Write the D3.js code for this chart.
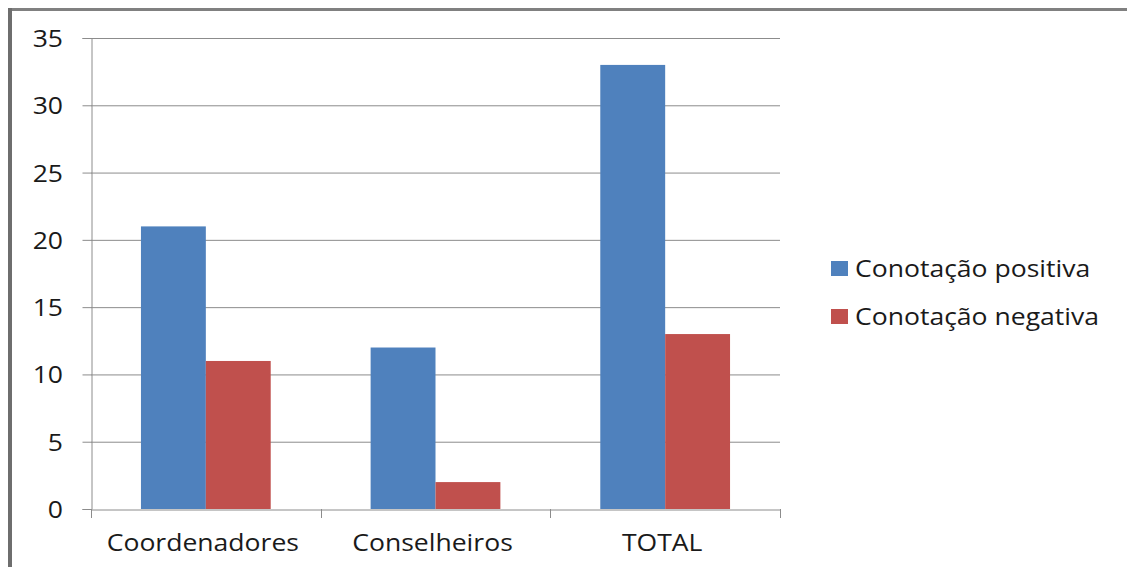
<!DOCTYPE html>
<html>
<head>
<meta charset="utf-8">
<script src="https://cdn.jsdelivr.net/npm/d3@7"></script>
<style>
  body { margin: 0; background: #fff; }
  text { font-family: "Open Sans", sans-serif; fill: #1a1a1a; }
</style>
</head>
<body>
<svg width="1127" height="567"></svg>
<script>
// data
const categories = ["Coordenadores", "Conselheiros", "TOTAL"];
const seriesNames = ["Conotação positiva", "Conotação negativa"];
const positiva = [21, 12, 33];
const negativa = [11, 2, 13];
const yTicks = [0, 5, 10, 15, 20, 25, 30, 35];
const colors = ["#4f81bd", "#c0504d"];

const fontSize = 23.5;
const stretch = 1.13; // the source picture is a bit wider than tall

const svg = d3.select("svg");

// outer frame (top and left edges only)
svg.append("rect").attr("x", 8).attr("y", 8).attr("width", 1119).attr("height", 3).attr("fill", "#808080");
svg.append("rect").attr("x", 8).attr("y", 8).attr("width", 4).attr("height", 559).attr("fill", "#6e6e6e");

const plot = { left: 91, right: 780, top: 38, bottom: 509 };

const x0 = d3.scaleBand()
  .domain(categories)
  .range([plot.left, plot.right])
  .paddingInner(0)
  .paddingOuter(0);

const bw = x0.bandwidth();
const x1 = d3.scaleBand()
  .domain(seriesNames)
  .range([bw * 0.2175, bw * 0.7825])
  .padding(0);

const y = d3.scaleLinear()
  .domain([0, 35])
  .range([plot.bottom, plot.top]);

// gridlines
svg.append("g")
  .selectAll("line")
  .data(yTicks.filter(d => d > 0))
  .join("line")
  .attr("x1", plot.left)
  .attr("x2", plot.right)
  .attr("y1", d => y(d) + 0.5)
  .attr("y2", d => y(d) + 0.5)
  .attr("stroke", "#8c8c8c")
  .attr("stroke-width", 1);

// bars
const rows = categories.map((c, i) => ({ cat: c, vals: [positiva[i], negativa[i]] }));
const groups = svg.append("g")
  .selectAll("g")
  .data(rows)
  .join("g")
  .attr("transform", d => `translate(${x0(d.cat)},0)`);

groups.selectAll("rect")
  .data(d => d.vals.map((v, k) => ({ key: seriesNames[k], v, k })))
  .join("rect")
  .attr("x", d => x1(d.key))
  .attr("width", x1.bandwidth())
  .attr("y", d => y(d.v))
  .attr("height", d => y(0) - y(d.v))
  .attr("fill", d => colors[d.k]);

// y axis
const yAxis = svg.append("g")
  .attr("transform", `translate(${plot.left + 0.5},0)`)
  .call(d3.axisLeft(y).tickValues(yTicks).tickSize(9).tickFormat(d3.format("d")));
yAxis.select(".domain").attr("stroke", "#8c8c8c");
yAxis.selectAll(".tick line").attr("stroke", "#8c8c8c");
yAxis.selectAll(".tick text")
  .attr("x", 0)
  .attr("dy", "0.36em")
  .attr("font-size", fontSize)
  .attr("fill", "#1a1a1a")
  .attr("transform", `translate(-28.5,0) scale(${stretch},1)`);

// x axis
const xAxis = svg.append("g")
  .attr("transform", `translate(0,${plot.bottom + 0.5})`)
  .call(d3.axisBottom(x0).tickSize(0));
xAxis.select(".domain").attr("stroke", "#8c8c8c");
xAxis.selectAll(".tick text")
  .attr("y", 42)
  .attr("dy", 0)
  .attr("font-size", fontSize)
  .attr("fill", "#1a1a1a")
  .attr("transform", `translate(-3,0) scale(${stretch},1)`);

// category separator ticks
svg.append("g")
  .selectAll("line")
  .data(categories.map(c => x0(c)).concat([plot.right]))
  .join("line")
  .attr("x1", d => Math.round(d) + 0.5)
  .attr("x2", d => Math.round(d) + 0.5)
  .attr("y1", plot.bottom)
  .attr("y2", plot.bottom + 9)
  .attr("stroke", "#8c8c8c");

// legend
const legend = svg.append("g").attr("transform", "translate(831,261)");
seriesNames.forEach((name, i) => {
  legend.append("rect")
    .attr("x", 0)
    .attr("y", i * 48)
    .attr("width", 17)
    .attr("height", 15)
    .attr("fill", colors[i]);
  legend.append("text")
    .attr("transform", `translate(24,${i * 48 + 16}) scale(${stretch},1)`)
    .attr("font-size", fontSize)
    .text(name);
});
</script>
</body>
</html>
